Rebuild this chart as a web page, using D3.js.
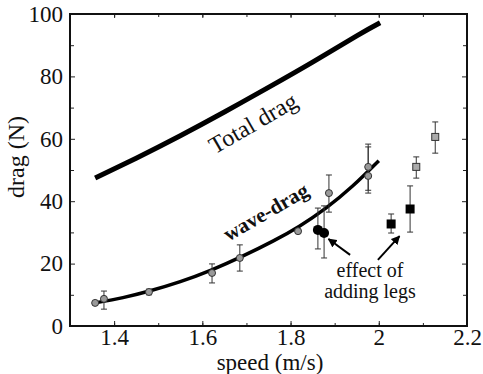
<!DOCTYPE html>
<html>
<head>
<meta charset="utf-8">
<script src="https://cdn.jsdelivr.net/npm/d3@7"></script>
<style>
  body { margin: 0; background: #fff; }
  svg text { font-family: "Liberation Serif", "DejaVu Serif", "Times New Roman", serif; }
</style>
</head>
<body>
<svg id="chart"></svg>
<script>
// Data
const speedTicks = [1.4, 1.6, 1.8, 2.0, 2.2];
const speedTickLabels = ["1.4", "1.6", "1.8", "2", "2.2"];
const dragTicks = [0, 20, 40, 60, 80, 100];

const totalSpeed = [1.357, 1.45, 1.55, 1.65, 1.75, 1.85, 1.95, 2.003];
const totalDrag  = [47.4, 53.8, 61.0, 68.6, 76.5, 84.6, 93.0, 97.2];

const waveSpeed = [1.36, 1.42, 1.48, 1.55, 1.62, 1.69, 1.76, 1.82, 1.88, 1.94, 2.0];
const waveDrag  = [7.5, 9.1, 11.2, 14.2, 17.9, 22.3, 27.2, 32.0, 37.8, 44.8, 53.0];

// measured points: speed, drag, error low, error high
const greyCircleSpeed = [1.357, 1.377, 1.479, 1.622, 1.685, 1.817, 1.887, 1.976, 1.976];
const greyCircleDrag  = [7.4, 8.7, 10.9, 17.0, 21.8, 30.4, 42.6, 51.0, 48.1];
const greyCircleLo    = [7.4, 5.4, 10.0, 13.8, 17.6, 29.8, 36.5, 42.6, 43.5];
const greyCircleHi    = [7.4, 11.2, 11.8, 19.9, 26.0, 31.0, 48.4, 58.3, 57.4];

const blackCircleSpeed = [1.862, 1.876];
const blackCircleDrag  = [30.8, 29.8];
const blackCircleLo    = [24.7, 21.8];
const blackCircleHi    = [37.8, 38.5];

const greySquareSpeed = [2.085, 2.128];
const greySquareDrag  = [51.0, 60.6];
const greySquareLo    = [47.4, 55.4];
const greySquareHi    = [54.2, 65.4];

const blackSquareSpeed = [2.028, 2.071];
const blackSquareDrag  = [32.7, 37.5];
const blackSquareLo    = [29.8, 30.1];
const blackSquareHi    = [35.9, 44.9];

// annotation arrows: [tailSpeed, tailDrag, headSpeed, headDrag]
const arrows = [
    [1.935, 22.8, 1.886, 27.9],
    [1.998, 21.2, 2.047, 28.8]
];

const width = 483;
const height = 374;
const margin = { top: 14, right: 16, bottom: 48, left: 70 };
const serif = "'Liberation Serif', 'DejaVu Serif', serif";

const svg = d3.select("#chart")
    .attr("width", width)
    .attr("height", height);

const x = d3.scaleLinear().domain([1.3, 2.2]).range([margin.left, width - margin.right]);
const y = d3.scaleLinear().domain([0, 100]).range([height - margin.bottom, margin.top]);

const zip = (a, b) => a.map((v, i) => [v, b[i]]);

// minor ticks (every 0.1 / every 10), on all four sides, pointing inward
const minorX = d3.range(14, 22).map(d => d / 10);
const minorY = d3.range(10, 100, 20);

function tickAxis(axisFn, scale, vals, size) {
    return axisFn(scale).tickValues(vals).tickSize(-size).tickFormat("");
}

const tickGroups = [
    [d3.axisBottom, x, minorX, 3, `translate(0,${y(0)})`],
    [d3.axisTop, x, minorX, 3, `translate(0,${y(100)})`],
    [d3.axisLeft, y, minorY, 4, `translate(${x(1.3)},0)`],
    [d3.axisRight, y, minorY, 4, `translate(${x(2.2)},0)`],
    [d3.axisTop, x, speedTicks, 4, `translate(0,${y(100)})`],
    [d3.axisRight, y, dragTicks, 5, `translate(${x(2.2)},0)`]
];
tickGroups.forEach(([fn, sc, vals, size, tr]) => {
    svg.append("g").attr("transform", tr).call(tickAxis(fn, sc, vals, size))
        .call(g => g.select(".domain").remove())
        .selectAll("line").attr("stroke", "#222").attr("stroke-width", 1);
});

// labelled axes
svg.append("g")
    .attr("transform", `translate(0,${y(0)})`)
    .attr("font-family", serif)
    .call(d3.axisBottom(x).tickValues(speedTicks).tickSize(-5).tickPadding(3)
        .tickFormat((d, i) => speedTickLabels[i]))
    .call(g => g.select(".domain").remove())
    .call(g => g.selectAll("line").attr("stroke", "#222"))
    .selectAll("text")
    .attr("fill", "#111")
    .attr("font-family", serif)
    .attr("font-size", 23);

svg.append("g")
    .attr("transform", `translate(${x(1.3)},0)`)
    .attr("font-family", serif)
    .call(d3.axisLeft(y).tickValues(dragTicks).tickSize(-5).tickPadding(7))
    .call(g => g.select(".domain").remove())
    .call(g => g.selectAll("line").attr("stroke", "#222"))
    .selectAll("text")
    .attr("fill", "#111")
    .attr("font-family", serif)
    .attr("font-size", 23);

// frame
svg.append("rect")
    .attr("x", x(1.3))
    .attr("y", y(100))
    .attr("width", x(2.2) - x(1.3))
    .attr("height", y(0) - y(100))
    .attr("fill", "none")
    .attr("stroke", "#111")
    .attr("stroke-width", 2);

// axis titles
svg.append("text")
    .attr("x", 270)
    .attr("y", 370)
    .attr("text-anchor", "middle")
    .attr("font-family", serif)
    .attr("font-size", 23)
    .attr("fill", "#111")
    .text("speed (m/s)");

svg.append("text")
    .attr("transform", "translate(24,157) rotate(-90)")
    .attr("text-anchor", "middle")
    .attr("font-family", serif)
    .attr("font-size", 24)
    .attr("fill", "#111")
    .text("drag (N)");

// curves
const line = d3.line().x(d => x(d[0])).y(d => y(d[1])).curve(d3.curveNatural);

svg.append("path")
    .datum(zip(totalSpeed, totalDrag))
    .attr("d", line)
    .attr("fill", "none")
    .attr("stroke", "#000")
    .attr("stroke-width", 5);

svg.append("path")
    .datum(zip(waveSpeed, waveDrag))
    .attr("d", line)
    .attr("fill", "none")
    .attr("stroke", "#000")
    .attr("stroke-width", 3.5);

// error bars
function errorBars(sp, lo, hi) {
    const data = sp.map((s, i) => ({ s, lo: lo[i], hi: hi[i] })).filter(d => d.hi > d.lo);
    const g = svg.append("g").attr("stroke", "#333").attr("stroke-width", 1);
    data.forEach(d => {
        g.append("line").attr("x1", x(d.s)).attr("x2", x(d.s)).attr("y1", y(d.lo)).attr("y2", y(d.hi));
        [d.lo, d.hi].forEach(v => {
            g.append("line").attr("x1", x(d.s) - 3).attr("x2", x(d.s) + 3).attr("y1", y(v)).attr("y2", y(v));
        });
    });
}
errorBars(greyCircleSpeed, greyCircleLo, greyCircleHi);
errorBars(blackCircleSpeed, blackCircleLo, blackCircleHi);
errorBars(greySquareSpeed, greySquareLo, greySquareHi);
errorBars(blackSquareSpeed, blackSquareLo, blackSquareHi);

// markers
svg.append("g").selectAll("circle")
    .data(zip(greyCircleSpeed, greyCircleDrag))
    .join("circle")
    .attr("cx", d => x(d[0]))
    .attr("cy", d => y(d[1]))
    .attr("r", 3.5)
    .attr("fill", "#999")
    .attr("stroke", "#333")
    .attr("stroke-width", 1);

svg.append("g").selectAll("circle")
    .data(zip(blackCircleSpeed, blackCircleDrag))
    .join("circle")
    .attr("cx", d => x(d[0]))
    .attr("cy", d => y(d[1]))
    .attr("r", 5)
    .attr("fill", "#000");

svg.append("g").selectAll("rect")
    .data(zip(greySquareSpeed, greySquareDrag))
    .join("rect")
    .attr("x", d => x(d[0]) - 3.5)
    .attr("y", d => y(d[1]) - 3.5)
    .attr("width", 7)
    .attr("height", 7)
    .attr("fill", "#aaa")
    .attr("stroke", "#333")
    .attr("stroke-width", 1);

svg.append("g").selectAll("rect")
    .data(zip(blackSquareSpeed, blackSquareDrag))
    .join("rect")
    .attr("x", d => x(d[0]) - 4.5)
    .attr("y", d => y(d[1]) - 4.5)
    .attr("width", 9)
    .attr("height", 9)
    .attr("fill", "#000");

// curve labels
svg.append("text")
    .attr("transform", `translate(${x(1.715)},${y(65)}) rotate(-30)`)
    .attr("text-anchor", "middle")
    .attr("dominant-baseline", "central")
    .attr("font-family", serif)
    .attr("font-size", 24)
    .attr("fill", "#111")
    .text("Total drag");

svg.append("text")
    .attr("transform", `translate(${x(1.744)},${y(36.5)}) rotate(-30)`)
    .attr("text-anchor", "middle")
    .attr("dominant-baseline", "central")
    .attr("font-family", serif)
    .attr("font-size", 21)
    .attr("font-weight", "bold")
    .attr("fill", "#111")
    .text("wave-drag");

// annotation
svg.append("defs").append("marker")
    .attr("id", "head")
    .attr("viewBox", "0 0 10 10")
    .attr("refX", 9)
    .attr("refY", 5)
    .attr("markerWidth", 9)
    .attr("markerHeight", 9)
    .attr("markerUnits", "userSpaceOnUse")
    .attr("orient", "auto")
    .append("path")
    .attr("d", "M0,0 L10,5 L0,10 z")
    .attr("fill", "#000");

svg.append("g").selectAll("line")
    .data(arrows)
    .join("line")
    .attr("x1", d => x(d[0]))
    .attr("y1", d => y(d[1]))
    .attr("x2", d => x(d[2]))
    .attr("y2", d => y(d[3]))
    .attr("stroke", "#000")
    .attr("stroke-width", 2)
    .attr("marker-end", "url(#head)");

const note = svg.append("text")
    .attr("text-anchor", "middle")
    .attr("font-family", serif)
    .attr("font-size", 20)
    .attr("fill", "#111");
note.append("tspan").attr("x", x(1.98)).attr("y", y(15.7)).text("effect of");
note.append("tspan").attr("x", x(1.98)).attr("y", y(9.0)).text("adding legs");
</script>
</body>
</html>
